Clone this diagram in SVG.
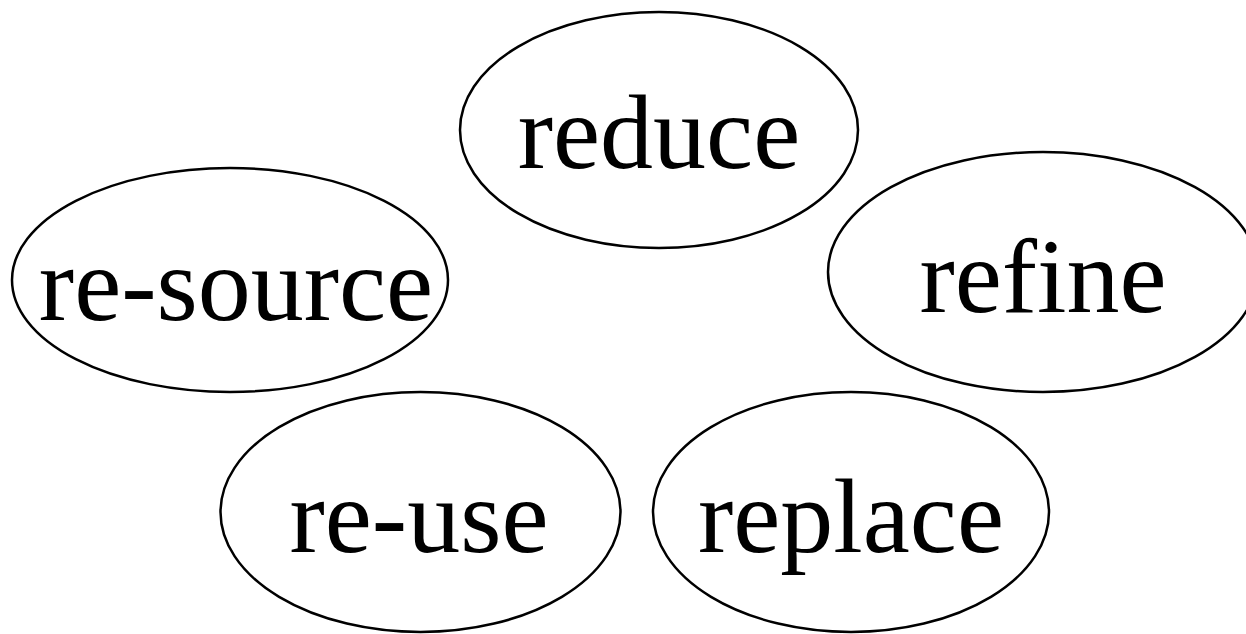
<svg xmlns="http://www.w3.org/2000/svg" width="1246" height="634" viewBox="0 0 1246 634">
<style>
.n ellipse{fill:#fff;stroke:#000;stroke-width:2.5}
.n text{font-family:"Liberation Serif","Times New Roman",serif;font-size:106px;fill:#000;text-anchor:middle}
</style>
<rect width="1246" height="634" fill="#fff"/>
<g id="connectors"></g>
<g id="reduce" class="n"><ellipse cx="659" cy="130" rx="199" ry="118"/><text x="659" y="168">reduce</text></g>
<g id="re-source" class="n"><ellipse cx="230" cy="280" rx="218" ry="112"/><text x="236" y="320">re-source</text></g>
<g id="refine" class="n"><ellipse cx="1043" cy="272" rx="215" ry="120"/><text x="1043" y="312">refine</text></g>
<g id="re-use" class="n"><ellipse cx="420.5" cy="512" rx="200" ry="120"/><text x="419" y="552">re-use</text></g>
<g id="replace" class="n"><ellipse cx="851" cy="512" rx="198" ry="120"/><text x="851" y="552">replace</text></g>
</svg>
